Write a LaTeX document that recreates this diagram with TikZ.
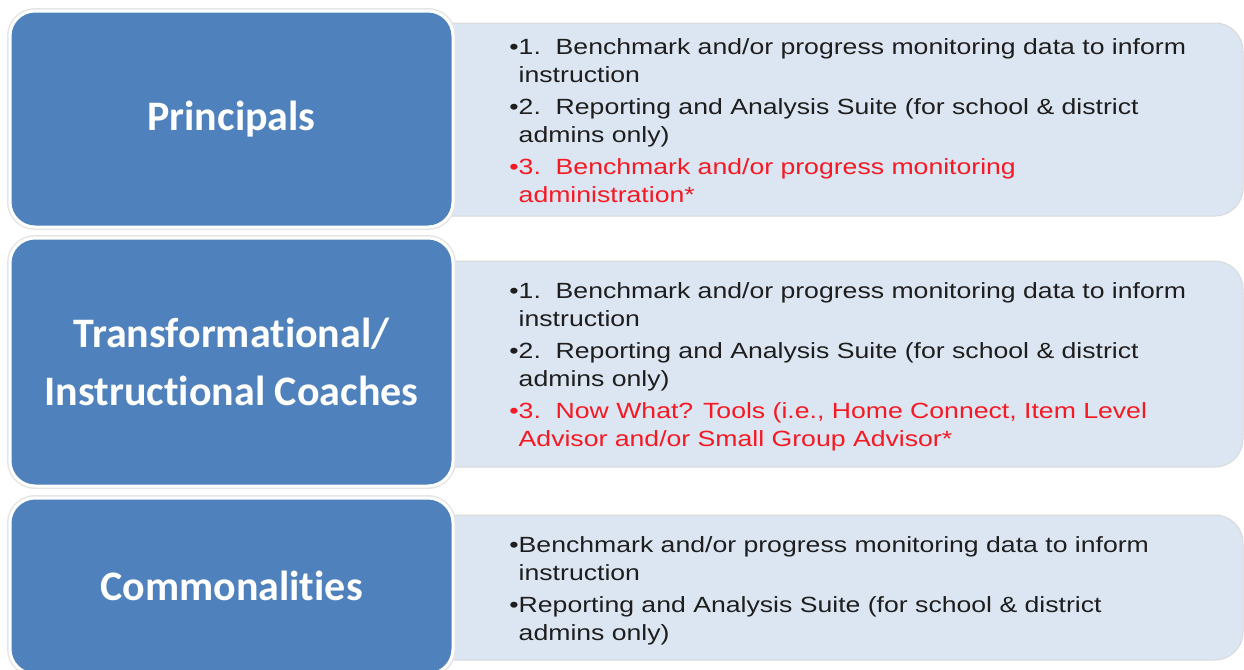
\documentclass[tikz,border=0pt]{standalone}
\usepackage{fontspec}
\setmainfont[FakeStretch=1.21]{Liberation Sans}
\newfontfamily\headfont[Ligatures=NoCommon]{Carlito}
\definecolor{roleblue}{RGB}{79,129,189}
\definecolor{panelgray}{RGB}{220,230,242}
\definecolor{itemred}{RGB}{245,25,35}
\definecolor{itemblack}{RGB}{30,30,30}
\tikzstyle{role} = [rounded corners=12.5pt, fill=roleblue, draw=white, line width=1.5pt,
	preaction={draw=black!10, line width=3pt}, text=white, align=center,
	font=\headfont\bfseries\fontsize{21}{29}\selectfont, minimum width=221.5pt]
\tikzstyle{panel} = [rounded corners=14pt, fill=panelgray, draw=black!15, line width=.5pt,
	minimum width=411.5pt]
\tikzstyle{items} = [anchor=west, inner sep=0pt, align=left, text=itemblack,
	font=\fontsize{11}{14}\selectfont]
\newcommand{\nxt}{\\[2pt]}
\newcommand{\ind}{\phantom{\textbullet}}
\newcommand{\hl}[1]{\textcolor{itemred}{#1}}

\begin{document}
\begin{tikzpicture}[x=.5pt, y=-.5pt]
	\clip (0,0) rectangle (1244,670);
	% light panels, left part hidden behind the blue boxes
	\node [panel, minimum height=96.5pt] (p1) at (831.5,119.5) {};
	\node [panel, minimum height=103pt] (p2) at (831.5,364) {};
	\node [panel, minimum height=72.5pt] (p3) at (831.5,587.5) {};
	\node [role, minimum height=108pt] (r1) at (231.5,119) {Principals};
	\node [role, minimum height=124pt] (r2) at (231.5,362) {Transformational/\\Instructional Coaches};
	\node [role, minimum height=88pt] (r3) at (231.5,586) {Commonalities};
	\node [items] (t1) at (509,120.5) {%
		\textbullet1.~~Benchmark and/or progress monitoring data to inform\\
		\ind instruction\nxt
		\textbullet2.~~Reporting and Analysis Suite (for school \& district\\
		\ind admins only)\nxt
		\hl{\textbullet3.~~Benchmark and/or progress monitoring}\\
		\hl{\ind administration*}};
	\node [items] (t2) at (509,367) {%
		\textbullet1.~~Benchmark and/or progress monitoring data to inform\\
		\ind instruction\nxt
		\textbullet2.~~Reporting and Analysis Suite (for school \& district\\
		\ind admins only)\nxt
		\hl{\textbullet3.~~Now What? Tools (i.e., Home Connect, Item Level}\\
		\hl{\ind Advisor and/or Small Group Advisor*}};
	\node [items] (t3) at (509,591) {%
		\textbullet Benchmark and/or progress monitoring data to inform\\
		\ind instruction\nxt
		\textbullet Reporting and Analysis Suite (for school \& district\\
		\ind admins only)};
\end{tikzpicture}
\end{document}
